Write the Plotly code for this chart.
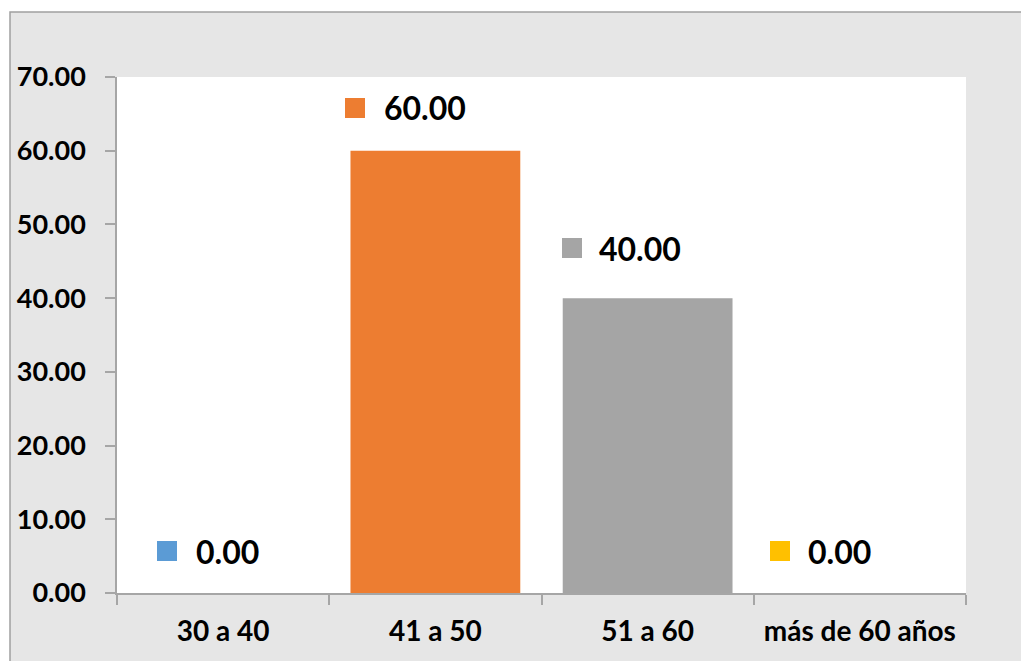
import plotly.graph_objects as go

categories = ["30 a 40", "41 a 50", "51 a 60", "más de 60 años"]
values = [0.00, 60.00, 40.00, 0.00]
colors = ["#5B9BD5", "#ED7D31", "#A5A5A5", "#FFC000"]
y_ticks = [0, 10, 20, 30, 40, 50, 60, 70]

# label layout (pixel offsets for key square and value text relative to bar centre/top)
key_dx = [-56, -80, -76, -80]
text_dx = [4, -10, -8, -20]
label_dy = [42, 43, 50, 42]

FONT = "Lato"
W, H = 1021, 661
ML, MR, MT, MB = 117, 55, 77, 68
pw, ph = W - ML - MR, H - MT - MB

fig = go.Figure()
fig.add_trace(go.Bar(
    x=categories, y=values, marker=dict(color=colors, line=dict(width=0)),
    showlegend=False, hoverinfo="skip"))

for i, (c, v) in enumerate(zip(categories, values)):
    fig.add_annotation(x=c, y=v, xref="x", yref="y", text="", showarrow=False,
                       width=20, height=20, bgcolor=colors[i], borderpad=0, borderwidth=0,
                       xshift=key_dx[i], yshift=label_dy[i], xanchor="center", yanchor="middle")
    fig.add_annotation(x=c, y=v, xref="x", yref="y", text=f"<b>{v:.2f}</b>", showarrow=False,
                       font=dict(family=FONT, size=32, color="#000000"),
                       xshift=text_dx[i], yshift=label_dy[i], xanchor="center", yanchor="middle")

# outer grey chart area with border, and white plot area
x0 = (10 - ML) / pw
y1 = (H - MB - 12) / ph
fig.add_shape(type="rect", xref="paper", yref="paper", x0=x0, x1=(W + 200 - ML) / pw,
              y0=-(MB + 200) / ph, y1=y1, fillcolor="#E6E6E6",
              line=dict(color="#A0A0A0", width=1.5), layer="below")
fig.add_shape(type="rect", xref="paper", yref="paper", x0=0, x1=1, y0=0, y1=1,
              fillcolor="#FFFFFF", line=dict(width=0), layer="below")

fig.update_layout(
    width=W, height=H, margin=dict(l=ML, r=MR, t=MT, b=MB),
    paper_bgcolor="#FFFFFF", plot_bgcolor="rgba(0,0,0,0)",
    bargap=0.2,
    font=dict(family=FONT, color="#000000"),
)
fig.update_xaxes(
    type="category", showgrid=False, showline=True, linecolor="#A6A6A6", linewidth=1.5,
    ticks="outside", tickson="boundaries", ticklen=10, tickcolor="#A6A6A6", tickwidth=1.5,
    tickfont=dict(family=FONT, size=28, color="#000000"),
    tickvals=categories, ticktext=[f"<b>{c}</b>" for c in categories],
    ticklabelstandoff=13, fixedrange=True,
)
fig.update_yaxes(
    range=[0, 70], tickvals=y_ticks, ticktext=[f"<b>{t:.2f}</b>" for t in y_ticks],
    showgrid=False, zeroline=False, showline=True, linecolor="#A6A6A6", linewidth=1.5,
    ticks="outside", ticklen=10, tickcolor="#A6A6A6", tickwidth=1.5,
    tickfont=dict(family=FONT, size=27, color="#000000"), ticklabelstandoff=14,
    fixedrange=True,
)

fig.write_html("out.html", config={"displayModeBar": False})
